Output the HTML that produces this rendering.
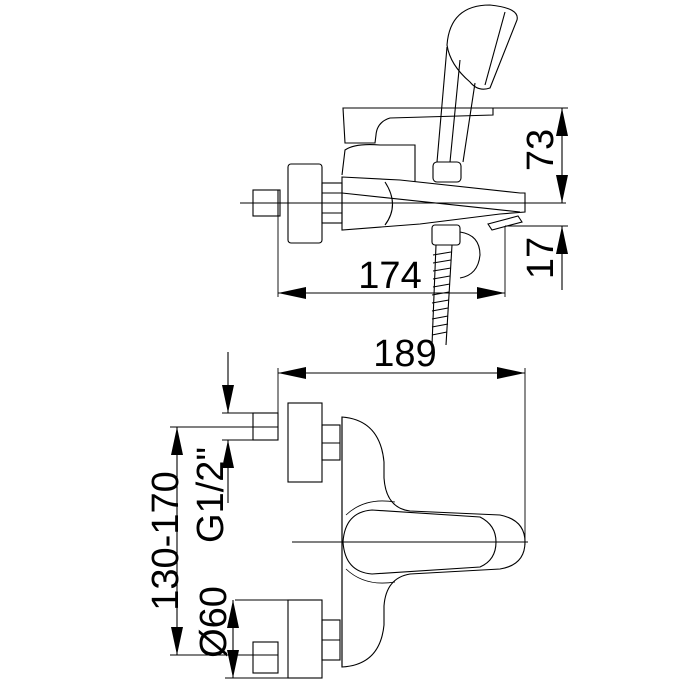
<!DOCTYPE html>
<html><head><meta charset="utf-8"><style>html,body{margin:0;padding:0;background:#fff}svg{display:block}</style></head>
<body>
<svg width="700" height="700" viewBox="0 0 700 700" xmlns="http://www.w3.org/2000/svg">
<g fill="none" stroke="#000" stroke-width="1.1">
<!-- TOP VIEW -->
<line x1="240" y1="203" x2="566" y2="203" stroke-width="0.9"/>
<rect x="253" y="190" width="27" height="26"/>
<line x1="278" y1="190" x2="278" y2="216"/>
<rect x="288" y="164" width="34" height="79" rx="3"/>
<rect x="322" y="183" width="20" height="40"/>
<line x1="322" y1="193" x2="342" y2="193"/><line x1="322" y1="213" x2="342" y2="213"/>
<path d="M342,177 L400,180 L520,193 L525,193 L525,212 L500,214 L420,224 L342,230 Z"/>
<path d="M342,193 L520,212"/>
<path d="M385,182 Q400,205 385,225"/>
<path d="M342,175 L345,150 Q355,143 380,145 L415,145 L415,182"/>
<path d="M343,108 L493,108 L493,115 L390,118 Q377,122 376,135 L375,143 L345,143 Z"/>
<rect x="433" y="162" width="28" height="20" rx="4"/>
<path d="M437,162 L447,47"/><path d="M463,162 L475,83"/>
<path d="M450,162 L460,60"/>
<path d="M447,45 Q450,5 490,5 Q520,8 517,20 L490,88 Q478,92 470,82 Q450,65 447,45 Z"/>
<path d="M505,12 L485,85"/>
<rect x="432" y="225" width="28" height="20" rx="3"/>
<path d="M460,232 Q480,235 480,255 Q478,275 460,278"/>
<path d="M436,245 L432,345 M452,245 L446,345"/>
<path d="M433,255 l18,-3 M433,263 l18,-3 M433,271 l18,-3 M433,279 l17,-3 M433,287 l17,-3 M432,295 l17,-3 M432,303 l17,-3 M432,311 l16,-3 M432,319 l16,-3 M432,327 l16,-3 M432,335 l15,-3"/>
<path d="M488,224 L518,216 L522,222 L492,230 Z"/>
<!-- dims top -->
<line x1="493" y1="108" x2="568" y2="108" stroke-width="0.9"/>
<line x1="505" y1="226" x2="568" y2="226" stroke-width="0.9"/>
<line x1="562" y1="108" x2="562" y2="203"/>
<line x1="562" y1="290" x2="562" y2="226"/>
<line x1="278" y1="203" x2="278" y2="297" stroke-width="0.9"/>
<line x1="505" y1="226" x2="505" y2="297" stroke-width="0.9"/>
<line x1="278" y1="293" x2="505" y2="293"/>
<!-- BOTTOM VIEW -->
<line x1="278" y1="373" x2="525" y2="373"/>
<line x1="278" y1="368" x2="278" y2="440" stroke-width="0.9"/>
<line x1="525" y1="368" x2="525" y2="545" stroke-width="0.9"/>
<rect x="253" y="413" width="25" height="27"/>
<rect x="288" y="403" width="34" height="79"/>
<rect x="322" y="425" width="18" height="35"/>
<line x1="322" y1="443" x2="340" y2="443"/>
<rect x="253" y="642" width="25" height="31"/>
<rect x="288" y="600" width="34" height="78"/>
<rect x="322" y="620" width="18" height="40"/>
<line x1="322" y1="640" x2="340" y2="640"/>
<path d="M342,417 Q380,420 384,462 L384,478 Q386,508 410,511 L500,515 Q525,520 525,542 Q525,565 500,569 L410,574 Q386,578 384,606 L384,625 Q380,665 342,667 Z"/>
<line x1="342" y1="417" x2="342" y2="667"/>
<path d="M343,542 Q345,512 372,510 L480,517 Q496,525 496,542 Q496,560 480,567 L372,574 Q345,572 343,542 Z"/>
<path d="M346,515 Q365,497 395,502 M346,569 Q365,587 395,582" stroke-width="0.8"/>
<line x1="292" y1="542" x2="528" y2="542" stroke-width="0.9"/>
<!-- dims bottom -->
<line x1="170" y1="427" x2="278" y2="427" stroke-width="0.9"/>
<line x1="170" y1="655" x2="278" y2="655" stroke-width="0.9"/>
<line x1="177" y1="427" x2="177" y2="655"/>
<line x1="222" y1="413" x2="253" y2="413" stroke-width="0.9"/>
<line x1="222" y1="440" x2="253" y2="440" stroke-width="0.9"/>
<line x1="228" y1="352" x2="228" y2="413"/>
<line x1="228" y1="503" x2="228" y2="440"/>
<line x1="235" y1="600" x2="288" y2="600" stroke-width="0.9"/>
<line x1="225" y1="678" x2="288" y2="678" stroke-width="0.9"/>
<line x1="233" y1="600" x2="233" y2="678"/>
</g>
<g fill="#000">
<polygon points="562,108 556,136 568,136"/>
<polygon points="562,203 556,175 568,175"/>
<polygon points="562,226 556,254 568,254"/>
<polygon points="278,293 306,287 306,299"/>
<polygon points="505,293 477,287 477,299"/>
<polygon points="278,373 306,367 306,379"/>
<polygon points="525,373 497,367 497,379"/>
<polygon points="177,427 171,455 183,455"/>
<polygon points="177,655 171,627 183,627"/>
<polygon points="228,413 222,385 234,385"/>
<polygon points="228,440 222,468 234,468"/>
<polygon points="233,600 227,628 239,628"/>
<polygon points="233,678 227,650 239,650"/>
</g>
<g font-family="Liberation Sans, sans-serif" font-size="38" fill="#000" text-anchor="middle">
<text x="390" y="288">174</text>
<text x="405" y="366">189</text>
<text transform="translate(553,150) rotate(-90)">73</text>
<text transform="translate(553,258) rotate(-90)">17</text>
<text transform="translate(178,541) rotate(-90)">130-170</text>
<text transform="translate(223,495) rotate(-90)">G1/2"</text>
<text transform="translate(226,622) rotate(-90)">Ø60</text>
</g>
</svg>
</body></html>
